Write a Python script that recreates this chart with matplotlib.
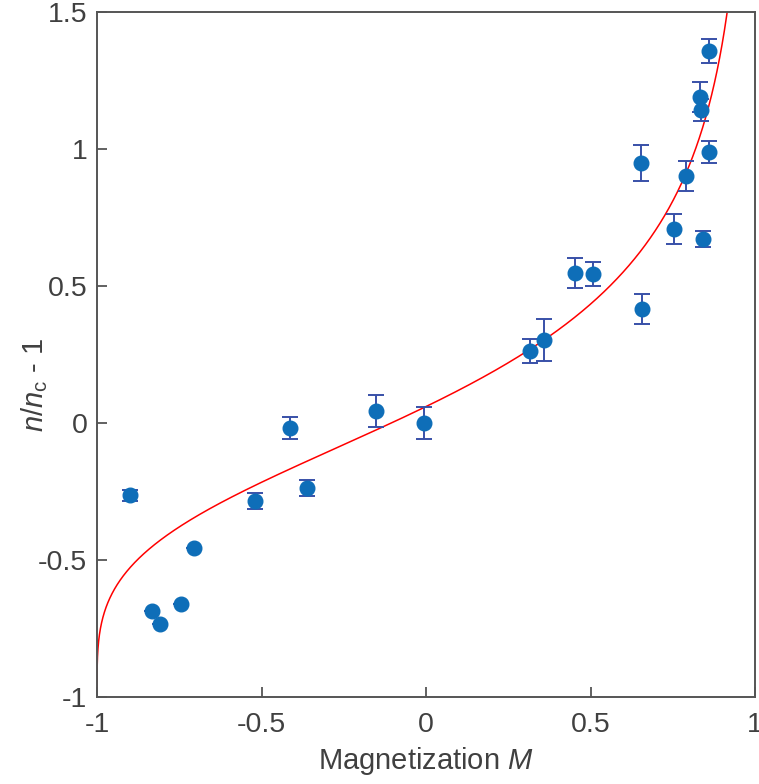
import numpy as np
import matplotlib.pyplot as plt

plt.rcParams['font.family'] = ['Liberation Sans', 'DejaVu Sans']
plt.rcParams['mathtext.fontset'] = 'custom'
plt.rcParams['mathtext.rm'] = 'Liberation Sans'
plt.rcParams['mathtext.it'] = 'Liberation Sans:italic'

# measured points: magnetization, n/nc - 1, error
mag = [-0.90, -0.833, -0.809, -0.745, -0.705, -0.52, -0.413, -0.362, -0.152, -0.006,
       0.316, 0.359, 0.453, 0.508, 0.653, 0.657, 0.754, 0.79, 0.833, 0.836, 0.86, 0.842, 0.86]
dens = [-0.263, -0.686, -0.734, -0.661, -0.456, -0.285, -0.018, -0.237, 0.044, 0.0,
        0.263, 0.303, 0.547, 0.544, 0.949, 0.416, 0.708, 0.901, 1.19, 1.142, 0.989, 0.672, 1.358]
err = [0.02, 0.0, 0.0, 0.0, 0.0, 0.03, 0.04, 0.03, 0.06, 0.06,
       0.045, 0.075, 0.055, 0.045, 0.065, 0.055, 0.055, 0.055, 0.055, 0.04, 0.04, 0.03, 0.045]

# theory curve parameters
pref = 1.06
expo = 0.275

gray = '#404040'

fig = plt.figure(figsize=(7.59, 7.84), dpi=100)
ax = fig.add_axes([97/759, 1 - 697/784, 658/759, 685/784])

m = np.linspace(-0.99999, 0.999, 4000)
curve = pref * ((1 + m) / (1 - m)) ** expo - 1
ax.plot(m, curve, color='#ff0000', lw=1.1, zorder=2)

ax.errorbar(mag, dens, yerr=err, fmt='none', ecolor='#3850a8', elinewidth=1.4,
            capsize=6, capthick=1.4, zorder=3)
ax.plot(mag, dens, 'o', color='#0e6eb8', ms=10.5, mec='#0e6eb8', zorder=4)

ax.set_xlim(-1, 1)
ax.set_ylim(-1, 1.5)
ax.set_xticks([-1, -0.5, 0, 0.5, 1])
ax.set_xticklabels(['-1', '-0.5', '0', '0.5', '1'])
ax.set_yticks([-1, -0.5, 0, 0.5, 1, 1.5])
ax.set_yticklabels(['-1', '-0.5', '0', '0.5', '1', '1.5'])
ax.tick_params(direction='in', length=7, width=1.3, colors='#555555',
               labelcolor=gray, labelsize=20.5)
ax.tick_params(axis='x', pad=11)
ax.tick_params(axis='y', pad=7)
for s in ax.spines.values():
    s.set_color('#555555')
    s.set_linewidth(1.4)

ax.set_xlabel('Magnetization $\\mathit{M}$', fontsize=21, color=gray, labelpad=5)
ax.set_ylabel('$\\mathit{n}/\\mathit{n}_\\mathrm{c}$ - 1', fontsize=21, color=gray)
ax.yaxis.set_label_coords(-0.072, 0.455)

fig.savefig('out.png', dpi=100)
